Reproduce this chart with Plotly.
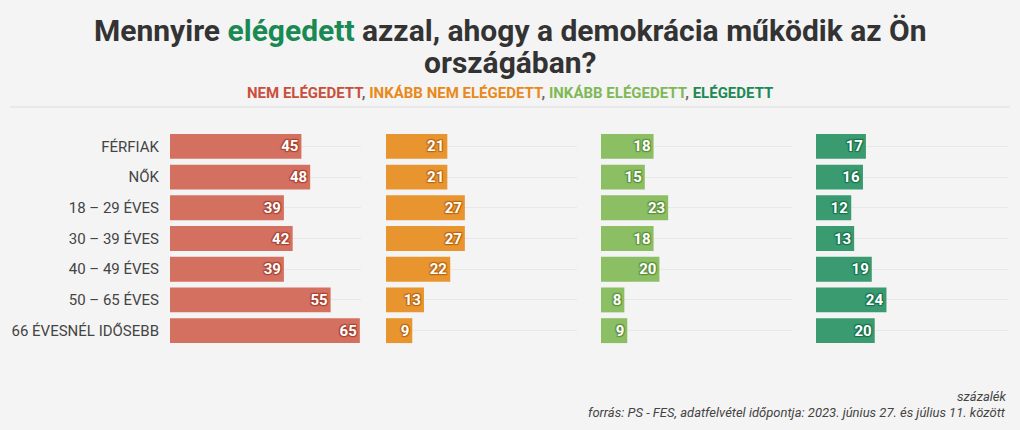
import plotly.graph_objects as go

W, H = 1020, 430

categories = ["FÉRFIAK", "NŐK", "18 – 29 ÉVES", "30 – 39 ÉVES", "40 – 49 ÉVES", "50 – 65 ÉVES", "66 ÉVESNÉL IDŐSEBB"]
nem_elegedett = [45, 48, 39, 42, 39, 55, 65]
inkabb_nem = [21, 21, 27, 27, 22, 13, 9]
inkabb_eleg = [18, 15, 23, 18, 20, 8, 9]
elegedett = [17, 16, 12, 13, 19, 24, 20]

series_names = ["NEM ELÉGEDETT", "INKÁBB NEM ELÉGEDETT", "INKÁBB ELÉGEDETT", "ELÉGEDETT"]
series_values = [nem_elegedett, inkabb_nem, inkabb_eleg, elegedett]
bar_colors = ["#d4705f", "#e8952f", "#8cbe64", "#3a9a70"]
shadow_colors = ["#a8402f", "#b8650f", "#5a8f38", "#17704a"]
legend_colors = ["#c9503c", "#e8891a", "#7fb955", "#1e8a55"]

px_domains = [(170, 361), (386, 577), (601, 792), (816, 1008)]
y_top, y_bot = 131, 346

fig = go.Figure()
for i, (name, vals) in enumerate(zip(series_names, series_values)):
    sc = shadow_colors[i]
    shadow = f"1px 1px 1px {sc}, -1px -1px 1px {sc}, 1px -1px 1px {sc}, -1px 1px 1px {sc}"
    ax = "" if i == 0 else str(i + 1)
    fig.add_trace(go.Bar(
        x=vals, y=categories, orientation="h", name=name,
        marker=dict(color=bar_colors[i], line=dict(width=0)),
        text=[str(v) for v in vals], textposition="inside", insidetextanchor="end",
        textfont=dict(color="white", size=15, family="Roboto", weight="bold", shadow=shadow),
        xaxis="x" + ax, yaxis="y" + ax, showlegend=False, hoverinfo="skip",
    ))

layout = dict(
    width=W, height=H, paper_bgcolor="#f4f4f4", plot_bgcolor="#f4f4f4",
    margin=dict(l=0, r=0, t=0, b=0), bargap=0.19,
    font=dict(family="Roboto", color="#444"),
)
for i, (a, b) in enumerate(px_domains):
    ax = "" if i == 0 else str(i + 1)
    layout["xaxis" + ax] = dict(domain=[a / W, b / W], range=[0, 65.4], showgrid=False,
                                zeroline=False, showticklabels=False, fixedrange=True,
                                anchor="y" + ax)
    layout["yaxis" + ax] = dict(domain=[1 - y_bot / H, 1 - y_top / H], autorange="reversed",
                                showgrid=True, gridcolor="#e8e8e8", gridwidth=1,
                                showticklabels=(i == 0), ticks="", ticklabelstandoff=10,
                                tickfont=dict(size=15, color="#444", family="Roboto"),
                                anchor="x" + ax, zeroline=False)
fig.update_layout(**layout)

title_lines = ["Mennyire <span style='color:#1a8a55'>elégedett</span> azzal, ahogy a demokrácia működik az Ön",
               "országában?"]
for line, yc in zip(title_lines, [30, 62]):
    fig.add_annotation(x=0.5, y=1 - yc / H, xref="paper", yref="paper", xanchor="center", yanchor="middle",
                       text=line, showarrow=False,
                       font=dict(size=30, color="#333", family="Roboto", weight="bold"))

sep = "<span style='color:#666'>, </span>"
leg = sep.join(f"<span style='color:{c}'>{n}</span>" for n, c in zip(series_names, legend_colors))
fig.add_annotation(x=0.5, y=1 - 93 / H, xref="paper", yref="paper", xanchor="center", yanchor="middle",
                   text=leg, showarrow=False,
                   font=dict(size=15, family="Roboto", weight="bold"))

fig.add_shape(type="line", xref="paper", yref="paper", x0=10 / W, x1=1010 / W,
              y0=1 - 107 / H, y1=1 - 107 / H, line=dict(color="#dcdcdc", width=1))

fig.add_annotation(x=1008 / W, y=1 - 396 / H, xref="paper", yref="paper", xanchor="right", yanchor="middle",
                   text="<i>százalék</i>", showarrow=False, font=dict(size=13, color="#444"))
fig.add_annotation(x=1008 / W, y=1 - 412 / H, xref="paper", yref="paper", xanchor="right", yanchor="middle",
                   text="<i>forrás: PS - FES, adatfelvétel időpontja: 2023. június 27. és július 11. között</i>",
                   showarrow=False, font=dict(size=13, color="#444"))

fig.write_html("out.html", config={"displayModeBar": False},
               post_script="document.body.style.margin='0';document.body.style.background='#f4f4f4';")
